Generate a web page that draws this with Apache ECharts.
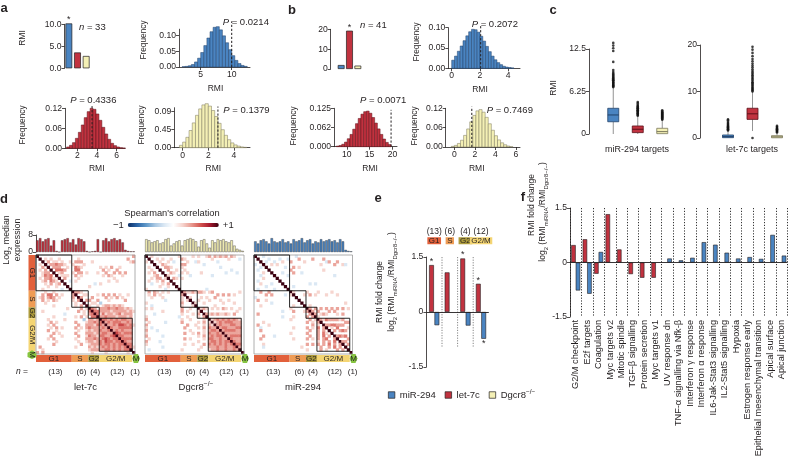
<!DOCTYPE html>
<html>
<head>
<meta charset="utf-8">
<title>RMI figure</title>
<script src="https://cdn.jsdelivr.net/npm/echarts@6.0.0/dist/echarts.min.js"></script>
<style>
  html, body { margin: 0; padding: 0; background: #fff; }
  #chart { width: 788px; height: 462px; }
</style>
</head>
<body>
<div id="chart"></div>
<script>
// ---------- data ----------
const groups = ['miR-294', 'let-7c', 'Dgcr8'];

// panel a
const aRmi = [10.2, 3.6, 2.8];
const aSig = [1, 0, 0];
const aBlueBins = [2.0, 0.5];
const aBlueFreq = [0.001, 0.002, 0.004, 0.008, 0.016, 0.028, 0.046, 0.068, 0.092, 0.112, 0.126, 0.128, 0.118, 0.099, 0.077, 0.055, 0.036, 0.021, 0.011, 0.005, 0.002];
const aBlueMark = [10, 0.145];
const aRedBins = [0.9, 0.3];
const aRedFreq = [0.004, 0.009, 0.017, 0.03, 0.048, 0.07, 0.092, 0.11, 0.12, 0.117, 0.103, 0.084, 0.063, 0.043, 0.027, 0.015, 0.008, 0.004, 0.002, 0.001];
const aRedMark = [3.5, 0.128];
const aYelBins = [-0.25, 0.25];
const aYelFreq = [0.006, 0.014, 0.026, 0.043, 0.062, 0.081, 0.097, 0.107, 0.11, 0.104, 0.093, 0.078, 0.061, 0.045, 0.031, 0.02, 0.012, 0.007, 0.004, 0.002, 0.001];
const aYelMark = [2.75, 0.103];
const aPText = ['0.0214', '0.4336', '0.1379'];

// panel b
const bRmi = [2.0, 19.3, 1.7];
const bSig = [0, 1, 0];
const bBlueBins = [0, 0.2];
const bBlueFreq = [0.02, 0.03, 0.042, 0.055, 0.068, 0.08, 0.09, 0.096, 0.095, 0.089, 0.079, 0.067, 0.054, 0.041, 0.03, 0.021, 0.014, 0.009, 0.005, 0.003, 0.002, 0.001];
const bBlueMark = [2.05, 0.107];
const bRedBins = [7.7, 0.6];
const bRedFreq = [0.002, 0.004, 0.008, 0.015, 0.026, 0.04, 0.057, 0.075, 0.092, 0.106, 0.114, 0.116, 0.109, 0.095, 0.077, 0.058, 0.04, 0.025, 0.014, 0.007];
const bRedMark = [19.7, 0.12];
const bYelBins = [-0.3, 0.3];
const bYelFreq = [0.002, 0.005, 0.011, 0.021, 0.036, 0.056, 0.078, 0.098, 0.112, 0.116, 0.108, 0.092, 0.072, 0.052, 0.035, 0.022, 0.013, 0.007, 0.003, 0.001];
const bYelMark = [1.7, 0.125];
const bPText = ['0.2072', '0.0071', '0.7469'];

// panel c: [low whisker, Q1, median, Q3, high whisker]
const cMirStats = [[0, 1.8, 2.8, 3.78, 6.8], [0, 0.2, 0.7, 1.18, 2.6], [0, 0.05, 0.35, 0.84, 2.0]];
const cMirOut = [
  [6.9, 7.0, 7.15, 7.2, 7.35, 7.5, 7.55, 7.7, 7.85, 7.9, 8.05, 8.2, 8.3, 8.45, 8.6, 8.75, 8.9, 9.1, 9.4, 10.6, 12.2, 12.6, 13.0, 13.4],
  [2.7, 2.8, 2.95, 3.0, 3.1, 3.25, 3.3, 3.45, 3.5, 3.6, 3.75, 3.8, 3.9, 4.05, 4.1, 4.3, 4.5, 4.7],
  [2.1, 2.2, 2.3, 2.45, 2.5, 2.6, 2.75, 2.8, 2.9, 3.05, 3.1, 3.2, 3.35, 3.5]
];
const cLetStats = [[0, 0.07, 0.3, 0.65, 1.5], [1.5, 4.0, 5.2, 6.4, 9.9], [0, 0.05, 0.25, 0.5, 1.1]];
const cLetOut = [
  [1.6, 1.75, 1.9, 2.0, 2.15, 2.3, 2.45, 2.6, 2.8, 3.0, 3.2, 3.5, 3.8, 4.0],
  [0, 10.0, 10.2, 10.4, 10.6, 10.8, 11.0, 11.3, 11.5, 11.8, 12.0, 12.3, 12.6, 12.9, 13.2, 13.5, 13.8, 14.1, 14.4, 14.8, 15.2, 15.6, 16.0, 16.5, 17.0, 17.6, 18.3, 19.0, 19.6],
  [1.2, 1.35, 1.5, 1.6, 1.75, 1.9, 2.05, 2.2, 2.4, 2.6]
];

// panel d
const phaseNames = ['G1', 'S', 'G2', 'G2/M', 'M'];
const phaseCounts = [13, 6, 4, 12, 1];
const let7cExpr = [5.5, 6.5, 5, 6, 6.5, 3, 5.5, 0.5, 0, 5.5, 6, 6.5, 4.5, 6, 3.5, 6.5, 6, 5, 0.5, 0, 0.3, 0.5, 6, 0, 5.5, 6.5, 5, 6, 6.5, 5.5, 6, 4.5, 1, 0.5, 0.3, 0.3];
const dgcr8Expr = [6, 5.5, 4.5, 5, 5.5, 4, 4.5, 6, 6.5, 3, 4, 5, 5.5, 3, 5.5, 6, 6.5, 6, 5, 2.5, 5.5, 6, 4, 2, 5.5, 4.5, 6, 5.5, 6, 5, 4.5, 5.5, 3, 1.5, 1, 0.5];
const mir294Expr = [5, 4, 5.5, 6, 5, 4, 6.5, 5, 4.5, 5, 6, 4.5, 5, 4, 6, 5, 5.5, 6.5, 4.5, 5.5, 6, 4, 5, 4.5, 6, 5, 5.5, 6, 5, 5.5, 4.5, 6, 5, 1, 0.5, 0.3];

// lower triangles of the correlation matrices (row i holds columns 0..i-1,
// groups G1 | S | G2 | G2/M); '.'=0, 1..5 positive, a/b negative
const let7cRows = [
  '', '.', '..', '.1.', '..2.', '.1.2.', '..122.', '..1323.', '.1.2231.', '..12.321.',
  '...1.2.12.', '....1..1...', '..1......a..', '...1..1......',
  '..2.33.2.1... 2', '.12.232.1.... 2.', '..2.1.21..... 1.2', '...1......... .1..',
  '......1...... .1.2.', '...........1. ...2.1', '..1.......... ..2.1. 3',
  '..........a.. ....1. 23', '......1...... .1.2.1 .33', '....1.....1.. ....b. 2212',
  '.....2.1..... .2...1 2232 3', '....1.2...... ..2..2 2213 32', '.....1.2.1... .2.1.2 3222 232',
  '....2..1..... ..1..1 2122 3223', '......2.1.... .2...2 2212 23322', '.....2...1... ..2..1 3221 332234',
  '....1.2...... .1...2 2232 2343233', '.......1..... ..1..1 2212 32433233', '......2...... ...2.. 1222 323323233',
  '.2........... .1.... 2121 2323232323', '..1.......... ...... 1222 22332323233', '2.2.......... ...... .1.. ..1.......1.'
];
const dgcr8Rows = [
  '', '.', '1.', '...', '.1..', '..1..', '.1.2..', '...12..', '..1.22.1', '.1..1.2..',
  '..a...1.2.', '.....1..1..', '1......a....', '.2.21.1.1....',
  '.1.2.1....... 2', '..1...1...... 1.', '.......a..... 1.1', '1............ 2...',
  '..a.......... 1...1', '1.1.......... 2..1..', '......1...... 2.1... 1',
  '...a......... 1...1. 2.', '1...........a ..1... 1.2', '2............ 1..1.. ..1.',
  '.1.....a..... 2..... 1.2. 1', '2............ ..2..1 ..1. 21', '1.a.......... .2.... 1.2. 322',
  '2...a........ ...1.. ..1. 2332', '1............ .2..1. 2.1. 32232', '2.....a...... ...... 1.2. 232332',
  '.1........... .2.1.. ..1. 3322322', '2....a....... ...... 1... 23323233', '1............ .1..1. ..2. 323232323',
  '......a...... ...... .1.. 2223223223', '.a........... 1..... 1... 12232232232', '............. ...... .... ............'
];
const mir294Rows = [
  '', '.', '..', 'a..', '..a.', '.a...', '...1..', '..a....', '...1....', '.a.......',
  '..1...a...', '....a......', '.a.....a....', '..2..2.......',
  '....2.2....a. 1', 'a............ ..', '.2..1........ ...', '......a...... ....',
  '..1.......... .1...', '............. 1.....', '..........a.. .2...1 2',
  '.2........... ...... .2', '..........a.. .1.... 2.2', '............. 1..... .2.1',
  '...1......... ...... 2.1. 2', '.2...1....... ...... ..2. 1.', '..a.......... .1.... 2.1. 3.2',
  '..2.......... ...... .2.. 2.2.', '............. 1..... 2... 2.31.', '...2...a..... ...... .2.. 2.3.2.',
  '..2.......... .1.... 2.1. 2.23..2', '............. ...... .... 1.2.2.3.', '...1......... ...... 2.2. 2.2.3.2.2',
  '...a......... ....1. .... .2..2.3.2.', '............. ...... 1... .2.1...2.2.', '............. ...... .... ............'
];

// panel e
const ePhases = ['G1', 'S', 'G2', 'G2/M'];
const ePhaseCounts = [13, 6, 4, 12];
const eLet7c = [1.28, 1.08, 1.46, 0.77];
const eMir294 = [-0.36, null, -0.37, -0.73];
const eLet7cSig = [1, 0, 1, 1];
const eMir294Sig = [0, 0, 0, 1];

// panel f
const fCats = ['G2/M checkpoint', 'E2f targets', 'Coagulation', 'Myc targets v2', 'Mitotic spindle',
  'TGF-β signalling', 'Protein secretion', 'Myc targets v1', 'UV response dn', 'TNF-α signalling via Nfk-β',
  'Interferon γ response', 'Interferon α response', 'IL6-Jak-Stat3 signalling', 'IL2-Stat5 signalling', 'Hypoxia',
  'Estrogen response early', 'Epithelial mesenchymal transition', 'Apical surface', 'Apical junction'];
const fLet7c = [0.48, 0.64, -0.31, 1.33, 0.36, -0.32, -0.42, -0.42, null, null, null, null, null, null, null, null, null, null, null];
const fMir294 = [-0.77, -0.86, 0.29, null, null, null, null, null, 0.11, 0.06, 0.13, 0.56, 0.49, 0.27, 0.11, 0.15, 0.1, 0.76, 0.19];

// ---------- style ----------
const FONT = "'Liberation Sans', Arial, Helvetica, sans-serif";
const INK = '#231f20';
const BLUE = '#4a84c1', RED = '#c1323f', YEL = '#f4f0b5';
const FILL = [BLUE, RED, YEL];
const EDGE = ['#22426a', '#5c1019', '#7a775c'];
const PHASE_COL = ['#e2603b', '#ef9c55', '#ad9b3c', '#f4d573', '#86c440'];
const LEVEL = { '.': 0, '1': 0.2, '2': 0.36, '3': 0.5, '4': 0.64, '5': 0.8, 'a': -0.2, 'b': -0.35 };

const grids = [], xAxis = [], yAxis = [], series = [], heatIdx = [];

function addGrid(box, xa, ya) {
  const i = grids.length;
  grids.push(Object.assign({ show: false, containLabel: false, outerBoundsMode: 'none' }, box));
  xAxis.push(Object.assign({ gridIndex: i }, xa));
  yAxis.push(Object.assign({ gridIndex: i }, ya));
  return i;
}

function valAxis(min, max, ticks, labels, extra) {
  return Object.assign({
    type: 'value', min, max,
    splitLine: { show: false },
    axisLine: { show: true, onZero: false, lineStyle: { color: INK, width: 0.8 } },
    axisTick: { show: true, length: 3, customValues: ticks, lineStyle: { color: INK, width: 0.8 } },
    axisLabel: {
      customValues: ticks, margin: 3, fontSize: 8.6, color: INK, fontFamily: FONT,
      formatter: v => {
        const k = ticks.findIndex(t => Math.abs(t - v) < 1e-9);
        return k < 0 ? '' : labels[k];
      }
    }
  }, extra || {});
}

function catAxis(n, extra) {
  const data = typeof n === 'number' ? Array.from({ length: n }, (_, i) => i) : n;
  return Object.assign({ type: 'category', data, show: false }, extra || {});
}

const unitAxis = { type: 'value', min: 0, max: 1, show: false };

function richFor(size) {
  const base = { fontFamily: FONT, fill: INK, color: INK };
  return {
    t: Object.assign({ fontSize: size, lineHeight: size * 1.4, verticalAlign: 'middle' }, base),
    i: Object.assign({ fontSize: size, fontStyle: 'italic', lineHeight: size * 1.4, verticalAlign: 'middle' }, base),
    sub: Object.assign({ fontSize: size * 0.7, lineHeight: size * 1.4, verticalAlign: 'bottom' }, base),
    sup: Object.assign({ fontSize: size * 0.7, lineHeight: size * 1.4, verticalAlign: 'top' }, base)
  };
}

function label(x, y, text, size, o) {
  o = o || {};
  const al = o.align || 'center';
  return {
    type: 'text', x, y, rotation: o.rot || 0, silent: true, z: 100,
    style: {
      text, fontSize: size, fontFamily: FONT, fontWeight: o.bold ? 'bold' : 'normal', fill: INK,
      align: al, textAlign: al, verticalAlign: 'middle', textVerticalAlign: 'middle', rich: richFor(size)
    }
  };
}

function rmiBars(g, values, sig) {
  return {
    type: 'bar', xAxisIndex: g, yAxisIndex: g, barWidth: 6.8, clip: false, silent: true,
    data: values.map((v, k) => ({
      value: v,
      itemStyle: { color: FILL[k], borderColor: INK, borderWidth: 0.7 },
      label: { show: !!sig[k], position: 'top', distance: -1, formatter: '*', fontSize: 9, color: INK }
    }))
  };
}

function histSeries(g, bins, freq, k) {
  return {
    type: 'custom', xAxisIndex: g, yAxisIndex: g, clip: false, silent: true,
    data: freq.map((f, i) => [bins[0] + i * bins[1], bins[0] + (i + 1) * bins[1], f]),
    renderItem: (params, api) => {
      const a = api.coord([api.value(0), 0]);
      const b = api.coord([api.value(1), api.value(2)]);
      return {
        type: 'rect',
        shape: { x: a[0], y: b[1], width: b[0] - a[0], height: a[1] - b[1] },
        style: { fill: FILL[k], stroke: EDGE[k], lineWidth: 0.5 }
      };
    }
  };
}

function markSeries(g, mark) {
  return {
    type: 'custom', xAxisIndex: g, yAxisIndex: g, clip: false, silent: true, z: 5,
    data: [mark],
    renderItem: (params, api) => {
      const a = api.coord([api.value(0), 0]);
      const b = api.coord([api.value(0), api.value(1)]);
      return {
        type: 'line', shape: { x1: a[0], y1: a[1], x2: b[0], y2: b[1] },
        style: { stroke: INK, lineWidth: 1, lineDash: [2.2, 1.8] }
      };
    }
  };
}

function histPanel(box, xr, xt, yr, yt, ylab, bins, freq, mark, k) {
  const g = addGrid(box,
    valAxis(xr[0], xr[1], xt, xt.map(String)),
    valAxis(yr[0], yr[1], yt, ylab));
  series.push(histSeries(g, bins, freq, k), markSeries(g, mark));
}

function boxSeries(g, stats, w) {
  return {
    type: 'custom', xAxisIndex: g, yAxisIndex: g, clip: false, silent: true,
    data: stats.map((s, k) => [k].concat(s)),
    renderItem: (params, api) => {
      const k = api.value(0);
      const c = v => api.coord([k, v]);
      const lo = c(api.value(1)), q1 = c(api.value(2)), md = c(api.value(3)), q3 = c(api.value(4)), hi = c(api.value(5));
      const x = lo[0];
      return {
        type: 'group', children: [
          { type: 'line', shape: { x1: x, y1: lo[1], x2: x, y2: q1[1] }, style: { stroke: '#777', lineWidth: 0.8 } },
          { type: 'line', shape: { x1: x, y1: q3[1], x2: x, y2: hi[1] }, style: { stroke: '#777', lineWidth: 0.8 } },
          { type: 'rect', shape: { x: x - w / 2, y: q3[1], width: w, height: Math.max(1.2, q1[1] - q3[1]) }, style: { fill: FILL[k], stroke: EDGE[k], lineWidth: 0.8 } },
          { type: 'line', shape: { x1: x - w / 2, y1: md[1], x2: x + w / 2, y2: md[1] }, style: { stroke: EDGE[k], lineWidth: 1 } }
        ]
      };
    }
  };
}

function outlierSeries(g, out) {
  const data = [];
  out.forEach((list, k) => list.forEach(v => data.push([k, v])));
  return {
    type: 'scatter', xAxisIndex: g, yAxisIndex: g, clip: false, silent: true,
    symbolSize: 2.6, itemStyle: { color: '#111' }, data
  };
}

function corrCells(rows) {
  const m = rows.map(r => r.replace(/ /g, ''));
  const cells = [];
  for (let i = 0; i < 36; i++) {
    for (let j = 0; j < 36; j++) {
      let v = 1;
      if (i !== j) {
        const hi = Math.max(i, j), lo = Math.min(i, j);
        v = LEVEL[m[hi][lo]] || 0;
      }
      if (v !== 0) cells.push([j, i, v]);
    }
  }
  return cells;
}

const phaseSpans = [];
let at = 0;
phaseCounts.forEach((n, k) => { phaseSpans.push([at, at + n - 1, k]); at += n; });

function stripSeries(g, vertical) {
  return {
    type: 'custom', xAxisIndex: g, yAxisIndex: g, silent: true, clip: false,
    data: phaseSpans,
    renderItem: (params, api) => {
      const s = api.value(0), e = api.value(1), k = api.value(2);
      let x0, x1, y0, y1;
      if (!vertical) {
        const a = api.coord([s, 1]), b = api.coord([e, 0]), h = api.size([1, 0])[0] / 2;
        x0 = a[0] - h; x1 = b[0] + h; y0 = a[1]; y1 = b[1];
      } else {
        const a = api.coord([0, s]), b = api.coord([1, e]), h = api.size([0, 1])[1] / 2;
        x0 = a[0]; x1 = b[0]; y0 = a[1] - h; y1 = b[1] + h;
      }
      const cx = (x0 + x1) / 2, cy = (y0 + y1) / 2;
      const kids = [];
      if (k === 4) {
        const pts = vertical
          ? [[cx, y0 - 1], [x1 + 1, y0 + 1.5], [x1 + 1, y1 + 3], [cx, y1 + 5], [x0 - 1, y1 + 3], [x0 - 1, y0 + 1.5]]
          : [[x0, cy], [x0 + 1.5, y0 - 1], [x1 + 3, y0 - 1], [x1 + 5, cy], [x1 + 3, y1 + 1], [x0 + 1.5, y1 + 1]];
        kids.push({ type: 'polygon', shape: { points: pts }, style: { fill: PHASE_COL[k] } });
      } else {
        kids.push({ type: 'rect', shape: { x: x0, y: y0, width: x1 - x0, height: y1 - y0 }, style: { fill: PHASE_COL[k] } });
      }
      kids.push({
        type: 'text', x: vertical ? cx : (k === 4 ? cx + 2.5 : cx), y: vertical && k === 4 ? cy + 2 : cy,
        rotation: vertical ? -Math.PI / 2 : 0,
        style: { text: phaseNames[k], fontSize: 8, fontFamily: FONT, fill: INK, align: 'center', verticalAlign: 'middle' }
      });
      if (!vertical) {
        kids.push({
          type: 'text', x: cx + 1.5, y: y1 + 10,
          style: { text: '(' + phaseCounts[k] + ')', fontSize: 8, fontFamily: FONT, fill: INK, align: 'center', verticalAlign: 'middle' }
        });
      }
      return { type: 'group', children: kids };
    }
  };
}

function boxesSeries(g) {
  const data = [[0, 35, 0]].concat(phaseSpans.slice(0, 4).map(p => [p[0], p[1], 1]));
  return {
    type: 'custom', xAxisIndex: g, yAxisIndex: g, silent: true, clip: false, z: 4,
    data,
    renderItem: (params, api) => {
      const s = api.value(0), e = api.value(1), kind = api.value(2);
      const a = api.coord([s, s]), b = api.coord([e, e]), sz = api.size([1, 1]);
      return {
        type: 'rect',
        shape: { x: a[0] - sz[0] / 2, y: a[1] - sz[1] / 2, width: b[0] - a[0] + sz[0], height: b[1] - a[1] + sz[1] },
        style: { fill: 'none', stroke: kind ? '#111' : '#9a9a9a', lineWidth: kind ? 0.9 : 0.8 }
      };
    }
  };
}

function heatPanel(left, width, rows, expr, k, withAxis) {
  const gb = addGrid({ left, top: 235, width, height: 17 }, catAxis(36),
    withAxis ? valAxis(0, 8, [0, 8], ['0', '8']) : { type: 'value', min: 0, max: 8, show: false });
  series.push({
    type: 'bar', xAxisIndex: gb, yAxisIndex: gb, data: expr, barCategoryGap: '12%', silent: true,
    itemStyle: { color: FILL[k], borderColor: INK, borderWidth: 0.35 }
  });
  const gh = addGrid({ left, top: 255, width, height: 99 }, catAxis(36), catAxis(36, { inverse: true }));
  heatIdx.push(series.length);
  series.push({ type: 'heatmap', xAxisIndex: gh, yAxisIndex: gh, data: corrCells(rows), silent: true, emphasis: { disabled: true } });
  series.push(boxesSeries(gh));
  const gs = addGrid({ left, top: 355, width, height: 7 }, catAxis(36), unitAxis);
  series.push(stripSeries(gs, false));
}

// ---------- panel a ----------
const aG = addGrid({ left: 64.5, top: 24.3, width: 26, height: 44 }, catAxis(groups),
  valAxis(0, 10, [0, 5, 10], ['0.0', '5.0', '10.0']));
series.push(rmiBars(aG, aRmi, aSig));
histPanel({ left: 179, top: 29.2, width: 71, height: 37.8 }, [1.5, 12.95], [5, 10],
  [0, 0.12], [0, 0.05, 0.1], ['0.00', '0.05', '0.10'], aBlueBins, aBlueFreq, aBlueMark, 0);
histPanel({ left: 65, top: 108.3, width: 60, height: 40 }, [0.74, 6.86], [2, 4, 6],
  [0, 0.12], [0, 0.06, 0.12], ['0.00', '0.06', '0.12'], aRedBins, aRedFreq, aRedMark, 1);
histPanel({ left: 174.3, top: 107.7, width: 75.7, height: 40 }, [-0.65, 5.25], [0, 2, 4],
  [0, 0.1], [0, 0.045, 0.09], ['0.00', '0.45', '0.09'], aYelBins, aYelFreq, aYelMark, 2);

// ---------- panel b ----------
const bG = addGrid({ left: 337, top: 29.3, width: 25, height: 39.7 }, catAxis(groups),
  valAxis(0, 20, [0, 10, 20], ['0', '10', '20'], { offset: 6.3 }));
series.push(rmiBars(bG, bRmi, bSig));
histPanel({ left: 448.3, top: 27.7, width: 71.7, height: 40.6 }, [-0.24, 4.83], [0, 2, 4],
  [0, 0.1], [0, 0.05, 0.1], ['0.00', '0.05', '0.10'], bBlueBins, bBlueFreq, bBlueMark, 0);
histPanel({ left: 334, top: 108.3, width: 63, height: 38.4 }, [7.2, 21.0], [10, 15, 20],
  [0, 0.125], [0, 0.062, 0.125], ['0.000', '0.062', '0.125'], bRedBins, bRedFreq, bRedMark, 1);
histPanel({ left: 445.7, top: 108.3, width: 74.3, height: 38.7 }, [-0.84, 6.39], [0, 2, 4, 6],
  [0, 0.12], [0, 0.06, 0.12], ['0.00', '0.06', '0.12'], bYelBins, bYelFreq, bYelMark, 2);

// ---------- panel c ----------
const cG1 = addGrid({ left: 601, top: 49, width: 73.5, height: 85 }, catAxis(groups),
  valAxis(0, 12.5, [0, 6.25, 12.5], ['0', '6.25', '12.5'], { offset: 12 }));
series.push(boxSeries(cG1, cMirStats, 11), outlierSeries(cG1, cMirOut));
const cG2 = addGrid({ left: 715.75, top: 45, width: 73.5, height: 93 }, catAxis(groups),
  valAxis(0, 20, [0, 10, 20], ['0', '10', '20'], { offset: 15.75 }));
series.push(boxSeries(cG2, cLetStats, 11), outlierSeries(cG2, cLetOut));

// ---------- panel d ----------
heatPanel(36, 99, let7cRows, let7cExpr, 1, true);
heatPanel(145, 99, dgcr8Rows, dgcr8Expr, 2, false);
heatPanel(254, 98.5, mir294Rows, mir294Expr, 0, false);
const dL = addGrid({ left: 28.5, top: 255, width: 7, height: 99 }, unitAxis, catAxis(36, { inverse: true }));
series.push(stripSeries(dL, true));

// ---------- panel e ----------
const zeroLine = {
  silent: true, symbol: ['none', 'none'], label: { show: false },
  lineStyle: { color: INK, width: 0.9, type: 'solid' }, data: [{ yAxis: 0 }]
};
const eG = addGrid({ left: 426.4, top: 257, width: 62.4, height: 110 }, catAxis(ePhases),
  valAxis(-1.5, 1.5, [-1.5, 0, 1.5], ['-1.5', '0', '1.5']));
series.push({
  type: 'bar', name: 'let-7c', xAxisIndex: eG, yAxisIndex: eG, barWidth: 4.8, barGap: '12%', silent: true,
  itemStyle: { color: RED, borderColor: INK, borderWidth: 0.6 },
  data: eLet7c.map((v, k) => ({ value: v, label: { show: !!eLet7cSig[k], position: 'top', distance: -1, formatter: '*', fontSize: 9, color: INK } })),
  markLine: zeroLine
}, {
  type: 'bar', name: 'miR-294', xAxisIndex: eG, yAxisIndex: eG, barWidth: 4.8, barGap: '12%', silent: true,
  itemStyle: { color: BLUE, borderColor: INK, borderWidth: 0.6 },
  data: eMir294.map((v, k) => ({ value: v, label: { show: !!eMir294Sig[k], position: 'bottom', distance: 0, formatter: '*', fontSize: 9, color: INK } }))
}, {
  type: 'line', name: 'Dgcr8', xAxisIndex: eG, yAxisIndex: eG, data: [],
  itemStyle: { color: YEL }, lineStyle: { color: YEL }
}, {
  type: 'custom', xAxisIndex: eG, yAxisIndex: eG, silent: true, clip: false,
  data: ePhases.slice(0, -1).map((p, k) => [k]),
  renderItem: (params, api) => {
    const k = api.value(0);
    const a = api.coord([k, 1.5]), b = api.coord([k, -0.95]);
    const x = a[0] + api.size([1, 0])[0] / 2;
    return { type: 'line', shape: { x1: x, y1: a[1], x2: x, y2: b[1] }, style: { stroke: '#666', lineWidth: 0.8, lineDash: [1.2, 1.4] } };
  }
});
const eH = addGrid({ left: 426.4, top: 237.5, width: 62.4, height: 6.5 }, catAxis(ePhases), unitAxis);
series.push({
  type: 'custom', xAxisIndex: eH, yAxisIndex: eH, silent: true, clip: false,
  data: ePhases.map((p, k) => [k, ePhaseCounts[k]]),
  renderItem: (params, api) => {
    const k = api.value(0), c = api.coord([k, 0.5]);
    return {
      type: 'group', children: [
        { type: 'text', x: c[0], y: c[1], style: { text: ePhases[k], fontSize: 8, lineHeight: 7, fontFamily: FONT, fill: INK, align: 'center', verticalAlign: 'middle', backgroundColor: PHASE_COL[k], padding: [0, 1.5, 0, 1.5] } },
        { type: 'text', x: c[0], y: c[1] - 9.5, style: { text: '(' + api.value(1) + ')', fontSize: 8.5, fontFamily: FONT, fill: INK, align: 'center', verticalAlign: 'middle' } }
      ]
    };
  }
});

// ---------- panel f ----------
const fG = addGrid({ left: 570, top: 208, width: 217.5, height: 109 },
  {
    type: 'category', data: fCats,
    axisLine: { show: false }, axisTick: { show: false },
    splitLine: { show: true, interval: 0, lineStyle: { color: '#333', width: 1, type: [1.2, 1.6] } },
    axisLabel: { interval: 0, rotate: 90, margin: 3, fontSize: 9.2, color: INK, fontFamily: FONT }
  },
  valAxis(-1.5, 1.5, [-1.5, 0, 1.5], ['-1.5', '0', '1.5']));
series.push({
  type: 'bar', name: 'let-7c', xAxisIndex: fG, yAxisIndex: fG, barWidth: 4.5, barGap: '0%', silent: true,
  itemStyle: { color: RED, borderColor: INK, borderWidth: 0.6 }, data: fLet7c, markLine: zeroLine
}, {
  type: 'bar', name: 'miR-294', xAxisIndex: fG, yAxisIndex: fG, barWidth: 4.5, barGap: '0%', silent: true,
  itemStyle: { color: BLUE, borderColor: INK, borderWidth: 0.6 }, data: fMir294
});

// ---------- texts ----------
const yLog = '{t|log}{sub|2}{t| (RMI}{sub|miRNA}{t|/RMI}{sub|Dgcr8−/−}{t|)}';
const texts = [
  label(4, 8, 'a', 13, { bold: true }),
  label(292, 10, 'b', 13, { bold: true }),
  label(553, 10, 'c', 13, { bold: true }),
  label(4, 199, 'd', 13, { bold: true }),
  label(378, 198, 'e', 13, { bold: true }),
  label(523, 197, 'f', 13, { bold: true }),

  label(23, 38, 'RMI', 8.5, { rot: Math.PI / 2 }),
  label(79, 27, '{i|n}{t| = 33}', 9.5, { align: 'left' }),
  label(143.3, 40, 'Frequency', 8.3, { rot: Math.PI / 2 }),
  label(215.5, 89, 'RMI', 8.5),
  label(222.7, 22, '{i|P}{t| = ' + aPText[0] + '}', 9.5, { align: 'left' }),
  label(22.7, 125, 'Frequency', 8.3, { rot: Math.PI / 2 }),
  label(96.7, 168.3, 'RMI', 8.5),
  label(93.3, 100, '{i|P}{t| = ' + aPText[1] + '}', 9.5),
  label(141.7, 125, 'Frequency', 8.3, { rot: Math.PI / 2 }),
  label(213.3, 168.3, 'RMI', 8.5),
  label(223.3, 110, '{i|P}{t| = ' + aPText[2] + '}', 9.5, { align: 'left' }),

  label(360, 25, '{i|n}{t| = 41}', 9.5, { align: 'left' }),
  label(416.5, 42, 'Frequency', 8.3, { rot: Math.PI / 2 }),
  label(480, 89.3, 'RMI', 8.5),
  label(471.7, 24.3, '{i|P}{t| = ' + bPText[0] + '}', 9.5, { align: 'left' }),
  label(293.3, 126, 'Frequency', 8.3, { rot: Math.PI / 2 }),
  label(370, 168.3, 'RMI', 8.5),
  label(360, 100, '{i|P}{t| = ' + bPText[1] + '}', 9.5, { align: 'left' }),
  label(415, 126, 'Frequency', 8.3, { rot: Math.PI / 2 }),
  label(476.7, 168.3, 'RMI', 8.5),
  label(486.7, 110, '{i|P}{t| = ' + bPText[2] + '}', 9.5, { align: 'left' }),

  label(553.3, 88, 'RMI', 8.5, { rot: Math.PI / 2 }),
  label(637, 150, 'miR-294 targets', 9),
  label(752, 150, 'let-7c targets', 9),

  label(172, 213, "Spearman's correlation", 9.3),
  label(7, 240, '{t|Log}{sub|2}{t| median}', 8.8, { rot: Math.PI / 2 }),
  label(17.5, 240, 'expression', 8.8, { rot: Math.PI / 2 }),
  label(22, 372, '{i|n}{t| =}', 8.5),
  label(85.5, 387, 'let-7c', 9.5),
  label(196, 387, '{t|Dgcr8}{sup|−/−}', 9.5),
  label(303, 387, 'miR-294', 9.5),

  label(380, 292, 'RMI fold change', 8.5, { rot: Math.PI / 2 }),
  label(392, 282, yLog, 8.5, { rot: Math.PI / 2 }),
  label(532, 205, 'RMI fold change', 8.5, { rot: Math.PI / 2 }),
  label(543, 212, yLog, 8.5, { rot: Math.PI / 2 })
];

const chart = echarts.init(document.getElementById('chart'), null, { renderer: 'canvas' });
chart.setOption({
  animation: false,
  backgroundColor: '#ffffff',
  textStyle: { fontFamily: FONT },
  grid: grids,
  xAxis,
  yAxis,
  series,
  visualMap: [{
    type: 'continuous', min: -1, max: 1, seriesIndex: heatIdx, orient: 'horizontal',
    left: 113, top: 220, itemWidth: 4, itemHeight: 91, padding: 0,
    text: ['+1', '−1'], textGap: 4, calculable: false, realtime: false, hoverLink: false,
    textStyle: { fontSize: 9.5, color: INK, fontFamily: FONT },
    inRange: { color: ['#0c2d63', '#2a64a6', '#5e97c8', '#a9c8e3', '#dbe8f4', '#ffffff', '#f6d5cf', '#e8998f', '#d3544f', '#a8192e', '#3b0010'] }
  }],
  legend: {
    data: ['miR-294', 'let-7c', 'Dgcr8'], left: 388, top: 389, padding: 0,
    icon: 'rect', itemWidth: 6.5, itemHeight: 6.5, itemGap: 9, selectedMode: false,
    itemStyle: { borderColor: INK, borderWidth: 0.7 },
    formatter: n => n === 'Dgcr8' ? '{n|Dgcr8}{s|−/−}' : n,
    textStyle: {
      fontSize: 9.5, color: INK, fontFamily: FONT,
      rich: { n: { fontSize: 9.5, color: INK, fontFamily: FONT }, s: { fontSize: 6.5, color: INK, fontFamily: FONT, verticalAlign: 'top', lineHeight: 12 } }
    }
  },
  graphic: { elements: texts }
});
</script>
</body>
</html>
